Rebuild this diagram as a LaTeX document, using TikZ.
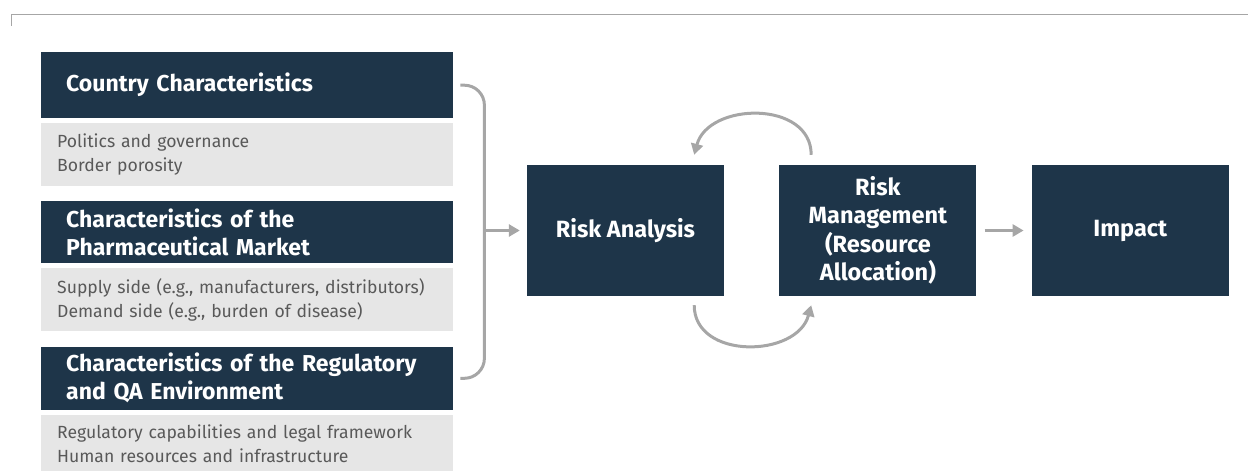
\documentclass[tikz,border=0pt]{standalone}
\usepackage{fontspec}
\setmainfont{Fira Sans}
\usetikzlibrary{positioning, arrows.meta}
\definecolor{navy}{HTML}{1E3549}
\definecolor{boxgray}{HTML}{E6E6E6}
\definecolor{txtgray}{HTML}{595959}
\definecolor{arrgray}{HTML}{A6A6A6}

\begin{document}
\begin{tikzpicture}[x=1pt, y=1pt, node distance=4pt,
  head/.style={fill=navy, text=white, font=\bfseries\fontsize{23}{28}\selectfont,
               inner xsep=25pt, inner ysep=0pt, text width=362pt, align=left, minimum height=63pt},
  info/.style={fill=boxgray, text=txtgray, font=\fontsize{17.6}{24}\selectfont,
               inner xsep=16pt, inner ysep=0pt, text width=380pt, align=left, minimum height=63pt},
  stage/.style={fill=navy, text=white, font=\bfseries\fontsize{23.5}{28.5}\selectfont,
                minimum width=197pt, minimum height=131pt, align=center, inner sep=0pt},
  flow/.style={draw=arrgray, line width=3pt, -{Triangle[length=11pt,width=12pt]}}]
\useasboundingbox (0,0) rectangle (1248,-471);
\draw[arrgray, line width=1pt] (11,-26) -- (11,-14) -- (1248,-14);
\node[head, anchor=north west, minimum height=66pt] (cc) at (41,-52) {Country Characteristics};
\node[info, below=of cc] (ccinfo) {Politics and governance\\Border porosity};
\node[head, below=15pt of ccinfo, minimum height=62pt] (pm) {Characteristics of the\\Pharmaceutical Market};
\node[info, below=5pt of pm] (pminfo) {Supply side (e.g., manufacturers, distributors)\\Demand side (e.g., burden of disease)};
\node[head, below=15pt of pminfo] (reg) {Characteristics of the Regulatory\\and QA Environment};
\node[info, below=5pt of reg, minimum height=58pt] (reginfo) {Regulatory capabilities and legal framework\\Human resources and infrastructure};
\node[stage] (ra) at (625.5,-230.5) {Risk Analysis};
\node[stage, right=55pt of ra] (rm) {Risk\\Management\\(Resource\\Allocation)};
\node[stage, right=55pt of rm] (imp) {Impact};
\coordinate (brk) at ([xshift=31pt]cc.east |- ra.west);
\draw[arrgray, line width=3pt, rounded corners=20pt]
  ([xshift=7pt]cc.east) -- ([xshift=31pt]cc.east) |- ([xshift=7pt]reg.east);
\draw[flow, shorten >=7pt] (brk) -- (ra.west);
\draw[flow] ([xshift=32pt,yshift=10pt]rm.north west) to[out=90, in=75, looseness=1.2]
  ([xshift=-30pt,yshift=10pt]ra.north east);
\draw[flow] ([xshift=-30pt,yshift=-9pt]ra.south east) to[out=-90, in=-105, looseness=1.2]
  ([xshift=32pt,yshift=-9pt]rm.south west);
\draw[flow, shorten <=8pt, shorten >=8pt] (rm.east) -- (imp.west);
\end{tikzpicture}
\end{document}
